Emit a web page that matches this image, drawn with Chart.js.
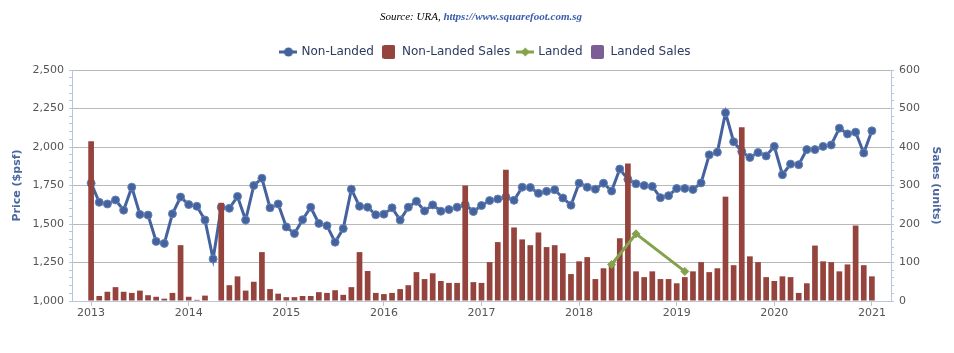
<!DOCTYPE html>
<html>
<head>
<meta charset="utf-8">
<script src="https://cdn.jsdelivr.net/npm/chart.js@4.4.1/dist/chart.umd.min.js"></script>
<style>
  html, body { margin: 0; padding: 0; background: #fff; }
  #wrap { position: relative; width: 954px; height: 353px; }
  #source { position: absolute; top: 10px; left: 4px; width: 954px; text-align: center;
            font-family: "Liberation Serif", serif; font-style: italic; font-size: 11px; color: #000; }
  #source span { color: #3b5bab; font-weight: bold; }
</style>
</head>
<body>
<div id="wrap">
  <canvas id="chart" width="954" height="353"></canvas>
  <div id="source">Source: URA, <span>https://www.squarefoot.com.sg</span></div>
</div>
<script>
// monthly data, Jan 2013 .. Jan 2021
var startYear = 2013;
var yearLabels = ['2013', '2014', '2015', '2016', '2017', '2018', '2019', '2020', '2021'];

var nonLandedPrice = [
  1765, 1641, 1630, 1656, 1590, 1739, 1562, 1558, 1387, 1374, 1566, 1675,
  1626, 1615, 1526, 1273, 1609, 1602, 1679, 1526, 1750, 1797, 1605, 1630,
  1481, 1438, 1528, 1609, 1504, 1489, 1382, 1470, 1726, 1615, 1609, 1560,
  1564, 1605, 1526, 1609, 1647, 1585, 1624, 1583, 1594, 1609, 1625, 1581,
  1620, 1652, 1662, 1675, 1654, 1739, 1737, 1699, 1712, 1722, 1669, 1622,
  1765, 1739, 1726, 1765, 1714, 1857, 1790, 1761, 1750, 1744, 1671, 1684,
  1731, 1731, 1724, 1767, 1949, 1966, 2222, 2034, 1970, 1932, 1964, 1942,
  2004, 1820, 1889, 1885, 1983, 1983, 2004, 2013, 2122, 2085, 2096, 1961,
  2105
];
var nonLandedSales = [
  415, 13, 24, 36, 24, 21, 27, 15, 11, 6, 21, 145,
  11, 3, 14, 0, 255, 41, 64, 27, 50, 127, 31, 19,
  10, 10, 13, 13, 23, 21, 28, 16, 36, 127, 78, 21,
  18, 21, 31, 41, 75, 57, 72, 52, 47, 47, 300, 49,
  47, 101, 153, 341, 191, 160, 145, 178, 140, 145, 124, 70,
  103, 114, 57, 85, 97, 163, 357, 77, 62, 77, 57, 57,
  46, 62, 77, 101, 75, 85, 271, 93, 451, 116, 101, 62,
  52, 64, 62, 21, 46, 144, 103, 101, 77, 95, 196, 93,
  64
];
var landedMonths = ['2018-05', '2018-08', '2019-02'];
var landedPrice = [1237, 1436, 1192];
var landedSales = [];

var blue = '#44629d', red = '#94443d', green = '#84a24c', purple = '#7b5e93';
var axisColor = '#b9c5dd', gridColor = '#b8b8b8';

function monthIndex(s) {
  var p = s.split('-');
  return (parseInt(p[0], 10) - startYear) * 12 + parseInt(p[1], 10) - 1;
}

// little legend markers
function marker(kind, color) {
  var c = document.createElement('canvas');
  var g = c.getContext('2d');
  if (kind == 'box') {
    c.width = 13; c.height = 14;
    g.fillStyle = color;
    g.beginPath();
    g.roundRect(0, 0, 13, 14, 2);
    g.fill();
  } else {
    c.width = 18; c.height = 10;
    g.strokeStyle = color; g.fillStyle = color; g.lineWidth = 3;
    g.beginPath(); g.moveTo(0, 5); g.lineTo(18, 5); g.stroke();
    g.beginPath();
    if (kind == 'circle') {
      g.arc(9, 5, 4.5, 0, Math.PI * 2);
    } else {
      g.moveTo(9, 0.5); g.lineTo(13.5, 5); g.lineTo(9, 9.5); g.lineTo(4.5, 5); g.closePath();
    }
    g.fill();
  }
  return c;
}
var legendMarkers = [marker('circle', blue), marker('box', red), marker('diamond', green), marker('box', purple)];

// a bit more room under the legend, and nudge it right like the original
var legendTweak = {
  id: 'legendTweak',
  beforeLayout: function (ch) {
    var lg = ch.legend;
    if (lg && !lg._gapAdded) {
      var fit = lg.fit;
      lg.fit = function () { fit.call(this); this.height += 2; };
      lg._gapAdded = true;
    }
  },
  afterLayout: function (ch) {
    if (ch.legend) { ch.legend.left += 9; ch.legend.right += 9; }
  }
};

var tickFont = { family: 'DejaVu Sans', size: 11 };
var titleFont = { family: 'DejaVu Sans', size: 11, weight: 'bold' };

var chart = new Chart(document.getElementById('chart'), {
  type: 'bar',
  plugins: [legendTweak],
  data: {
    datasets: [
      {
        type: 'line',
        label: 'Non-Landed',
        data: nonLandedPrice.map(function (v, i) { return { x: i, y: v }; }),
        yAxisID: 'yPrice',
        borderColor: blue,
        backgroundColor: blue,
        borderWidth: 3,
        pointRadius: 4,
        pointBackgroundColor: blue,
        pointBorderColor: '#6682b5',
        pointBorderWidth: 1,
        tension: 0,
        order: 3
      },
      {
        label: 'Non-Landed Sales',
        data: nonLandedSales.map(function (v, i) { return { x: i, y: v }; }),
        yAxisID: 'ySales',
        backgroundColor: red,
        grouped: false,
        barPercentage: 1,
        categoryPercentage: 0.7,
        order: 2
      },
      {
        type: 'line',
        label: 'Landed',
        data: landedPrice.map(function (v, i) { return { x: monthIndex(landedMonths[i]), y: v }; }),
        yAxisID: 'yPrice',
        borderColor: green,
        backgroundColor: green,
        borderWidth: 3,
        pointStyle: 'rectRot',
        pointRadius: 4,
        pointBorderWidth: 1,
        spanGaps: true,
        order: 1
      },
      {
        label: 'Landed Sales',
        data: landedSales,
        yAxisID: 'ySales',
        backgroundColor: purple,
        grouped: false,
        order: 2
      }
    ]
  },
  options: {
    responsive: false,
    animation: false,
    devicePixelRatio: 1,
    layout: { padding: { top: 38, left: 0, right: 0, bottom: 0 } },
    plugins: {
      tooltip: { enabled: false },
      legend: {
        position: 'top',
        labels: {
          usePointStyle: true,
          pointStyleWidth: 14,
          boxHeight: 12,
          padding: 8,
          color: '#2b3a5e',
          font: { family: 'DejaVu Sans', size: 12 },
          sort: function (a, b) { return a.datasetIndex - b.datasetIndex; },
          generateLabels: function (ch) {
            var items = Chart.defaults.plugins.legend.labels.generateLabels(ch);
            items.forEach(function (it) { it.pointStyle = legendMarkers[it.datasetIndex]; });
            return items;
          }
        }
      }
    },
    scales: {
      x: {
        type: 'linear',
        min: -2.35,
        max: 98.35,
        offset: false,
        afterBuildTicks: function (scale) {
          scale.ticks = yearLabels.map(function (y, i) { return { value: i * 12 }; });
        },
        afterFit: function (scale) { scale.height = 52; },
        ticks: {
          autoSkip: false,
          maxRotation: 0,
          padding: 1,
          color: '#555',
          font: tickFont,
          callback: function (v) { return yearLabels[v / 12]; }
        },
        grid: { drawOnChartArea: false, tickLength: 5, tickColor: axisColor, offset: false },
        border: { color: axisColor }
      },
      yPrice: {
        position: 'left',
        min: 1000,
        max: 2500,
        afterFit: function (scale) { scale.width = 72; },
        ticks: {
          stepSize: 50,
          autoSkip: false,
          padding: 5,
          color: '#555',
          font: tickFont,
          callback: function (v) { return v % 250 === 0 ? v.toLocaleString('en-US') : ''; }
        },
        grid: {
          tickLength: 3,
          tickColor: axisColor,
          color: function (ctx) { return ctx.tick && ctx.tick.value % 250 === 0 ? gridColor : 'rgba(0,0,0,0)'; }
        },
        border: { color: axisColor },
        title: { display: true, text: 'Price ($psf)', color: '#4a66a0', font: titleFont, padding: { top: 11, bottom: 0 } }
      },
      ySales: {
        position: 'right',
        min: 0,
        max: 600,
        afterFit: function (scale) { scale.width = 63; },
        ticks: {
          stepSize: 20,
          autoSkip: false,
          padding: 5,
          color: '#555',
          font: tickFont,
          callback: function (v) { return v % 100 === 0 ? v : ''; }
        },
        grid: { drawOnChartArea: false, tickLength: 3, tickColor: axisColor },
        border: { color: axisColor },
        title: { display: true, text: 'Sales (units)', color: '#4a66a0', font: titleFont, padding: { top: 12, bottom: 0 } }
      }
    }
  }
});
</script>
</body>
</html>
